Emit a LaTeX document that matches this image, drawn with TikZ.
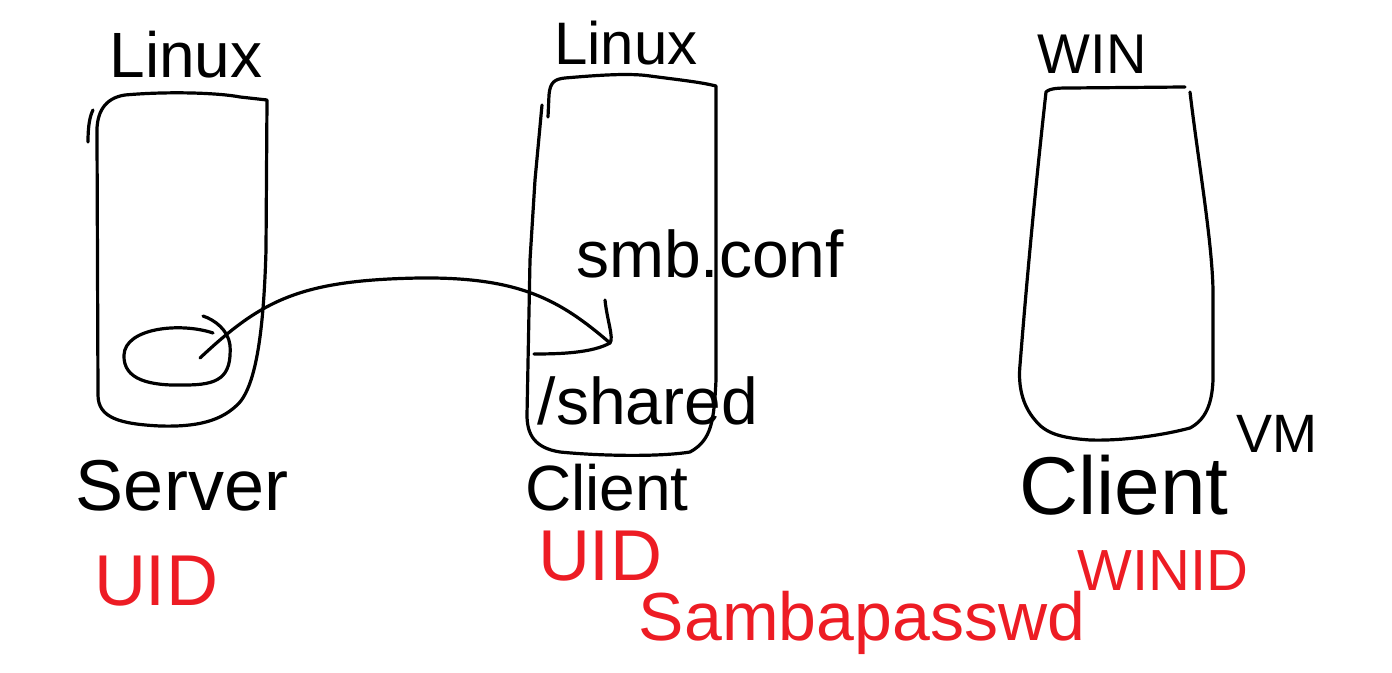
\documentclass[tikz,border=0pt]{standalone}
\usepackage{fontspec}
\setmainfont{Liberation Sans}
\definecolor{pred}{RGB}{237,28,36}
\begin{document}
\begin{tikzpicture}[x=0.5pt,y=-0.5pt,
  ink/.style={line width=1.6pt,line cap=round,line join=round},
  lbl/.style={anchor=base,inner sep=0pt,font=\fontsize{#1}{#1}\selectfont},
  rlbl/.style={lbl=#1,text=pred}]
\useasboundingbox[fill=white] (0,0) rectangle (1392,673);
% ---------- box 1 (Linux server)
\draw[ink] (88,142) .. controls (88,125) and (90,116) .. (93,110);
\draw[ink] (97,135) .. controls (96,112) and (105,98) .. (125,95)
  .. controls (170,91) and (220,93) .. (240,97) -- (267,100)
  -- (266,250) .. controls (264,320) and (258,380) .. (240,402)
  .. controls (222,422) and (195,427) .. (160,426)
  .. controls (120,424) and (98,418) .. (98,395) -- (97,135);
% ellipse with curl
\draw[ink] (213,333) .. controls (180,322) and (125,328) .. (124,355)
  .. controls (123,380) and (150,386) .. (185,385)
  .. controls (218,385) and (232,378) .. (230,345)
  .. controls (228,330) and (215,320) .. (203,316);
% ---------- box 2 (Linux client)
\draw[ink] (548,117) -- (549,95) .. controls (550,82) and (555,79) .. (565,78)
  .. controls (600,75) and (630,73) .. (650,76) .. controls (680,80) and (700,82) .. (716,86)
  -- (716,380) .. controls (714,420) and (712,440) .. (690,452)
  .. controls (660,457) and (600,456) .. (560,452)
  .. controls (535,448) and (527,435) .. (527,415) -- (530,260) -- (535,180) -- (542,105);
% ---------- box 3 (Windows client)
\draw[ink] (1190,92) .. controls (1198,160) and (1212,240) .. (1213,290)
  -- (1213,380)
  .. controls (1212,405) and (1205,420) .. (1190,428)
  .. controls (1160,436) and (1120,441) .. (1090,440)
  .. controls (1060,438) and (1045,433) .. (1035,420)
  .. controls (1022,405) and (1018,385) .. (1020,365)
  .. controls (1026,290) and (1034,200) .. (1046,92)
  .. controls (1050,88) and (1060,88) .. (1070,88) -- (1185,87);
% ---------- connector
\coordinate (src) at (200,358);
\coordinate (dst) at (610,343);
\draw[ink] (src) .. controls (262,300) and (300,280) .. (420,278)
  .. controls (520,277) and (560,300) .. (dst);
\draw[ink] (605,300) .. controls (607,320) and (614,338) .. (dst)
  .. controls (592,353) and (560,354) .. (534,354);
% ---------- labels
\node[lbl=32pt] (l1) at (186,78) {Linux};
\node[lbl=30pt] (l2) at (626,65) {Linux};
\node[lbl=28pt] (l3) at (1092,74) {WIN};
\node[lbl=33pt] (smb) at (710,278) {smb.conf};
\node[lbl=33pt] (sh) at (648,425) {/shared};
\node[lbl=36pt] (srv) at (182,510) {Server};
\node[lbl=32pt] (c2) at (607,510) {Client};
\node[lbl=41pt] (c3) at (1124,515) {Client};
\node[lbl=27pt] (vm) at (1277,452) {VM};
\node[rlbl=36pt] (u1) at (156,605) {UID};
\node[rlbl=36pt] (u2) at (600,580) {UID};
\node[rlbl=29pt] (wid) at (1163,590) {WINID};
\node[rlbl=34pt] (sp) at (862,640) {Sambapasswd};
\end{tikzpicture}
\end{document}
